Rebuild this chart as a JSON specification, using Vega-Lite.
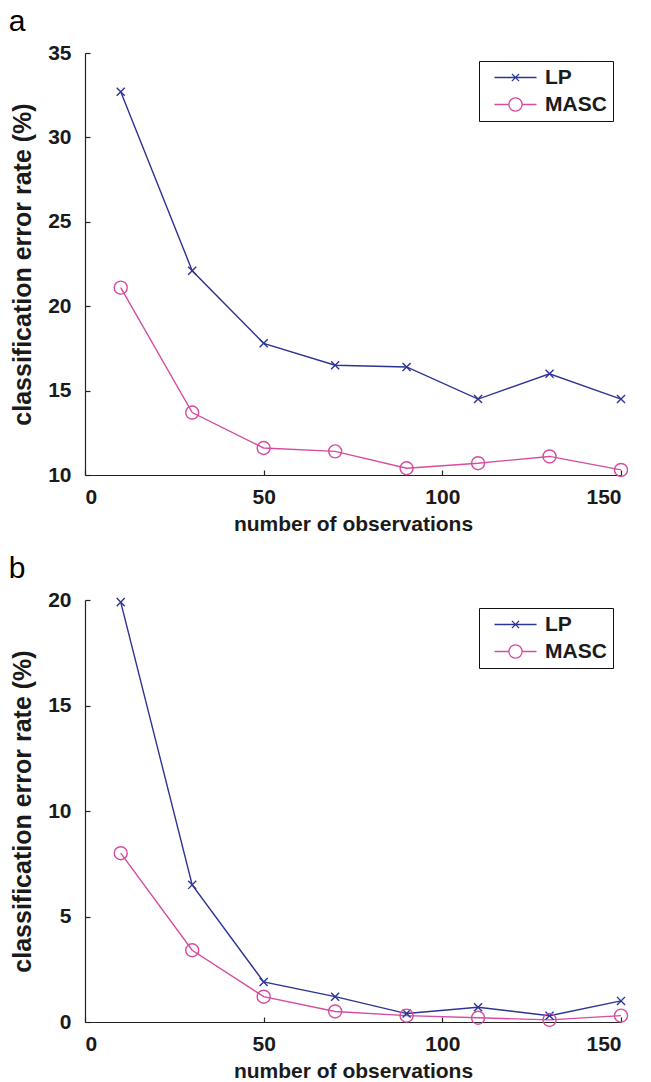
{
  "$schema": "https://vega.github.io/schema/vega-lite/v6.json",
  "background": "white",
  "padding": {"left": 8, "top": 7, "right": 5, "bottom": 0},
  "spacing": 20,
  "data": {"values": [
    {"panel": "a", "method": "LP", "obs": 10, "rate": 32.7},
    {"panel": "a", "method": "LP", "obs": 30, "rate": 22.1},
    {"panel": "a", "method": "LP", "obs": 50, "rate": 17.8},
    {"panel": "a", "method": "LP", "obs": 70, "rate": 16.5},
    {"panel": "a", "method": "LP", "obs": 90, "rate": 16.4},
    {"panel": "a", "method": "LP", "obs": 110, "rate": 14.5},
    {"panel": "a", "method": "LP", "obs": 130, "rate": 16.0},
    {"panel": "a", "method": "LP", "obs": 150, "rate": 14.5},
    {"panel": "a", "method": "MASC", "obs": 10, "rate": 21.1},
    {"panel": "a", "method": "MASC", "obs": 30, "rate": 13.7},
    {"panel": "a", "method": "MASC", "obs": 50, "rate": 11.6},
    {"panel": "a", "method": "MASC", "obs": 70, "rate": 11.4},
    {"panel": "a", "method": "MASC", "obs": 90, "rate": 10.4},
    {"panel": "a", "method": "MASC", "obs": 110, "rate": 10.7},
    {"panel": "a", "method": "MASC", "obs": 130, "rate": 11.1},
    {"panel": "a", "method": "MASC", "obs": 150, "rate": 10.3},
    {"panel": "b", "method": "LP", "obs": 10, "rate": 19.9},
    {"panel": "b", "method": "LP", "obs": 30, "rate": 6.5},
    {"panel": "b", "method": "LP", "obs": 50, "rate": 1.9},
    {"panel": "b", "method": "LP", "obs": 70, "rate": 1.2},
    {"panel": "b", "method": "LP", "obs": 90, "rate": 0.4},
    {"panel": "b", "method": "LP", "obs": 110, "rate": 0.7},
    {"panel": "b", "method": "LP", "obs": 130, "rate": 0.3},
    {"panel": "b", "method": "LP", "obs": 150, "rate": 1.0},
    {"panel": "b", "method": "MASC", "obs": 10, "rate": 8.0},
    {"panel": "b", "method": "MASC", "obs": 30, "rate": 3.4},
    {"panel": "b", "method": "MASC", "obs": 50, "rate": 1.2},
    {"panel": "b", "method": "MASC", "obs": 70, "rate": 0.5},
    {"panel": "b", "method": "MASC", "obs": 90, "rate": 0.3},
    {"panel": "b", "method": "MASC", "obs": 110, "rate": 0.2},
    {"panel": "b", "method": "MASC", "obs": 130, "rate": 0.1},
    {"panel": "b", "method": "MASC", "obs": 150, "rate": 0.3}
  ]},
  "config": {
    "view": {"stroke": null},
    "font": "Liberation Sans",
    "axis": {
      "grid": false,
      "domainColor": "#222",
      "domainWidth": 1.2,
      "tickColor": "#222",
      "tickWidth": 1.2,
      "tickSize": -5,
      "labelFont": "Liberation Sans",
      "labelFontWeight": "bold",
      "labelFontSize": 21,
      "labelColor": "#1a1a1a",
      "titleFont": "Liberation Sans",
      "titleFontWeight": "bold",
      "titleColor": "#1a1a1a"
    },
    "axisX": {"labelPadding": 16, "titlePadding": 6, "titleFontSize": 21},
    "axisY": {"labelPadding": 19, "titlePadding": 12, "titleFontSize": 25},
    "legend": {
      "orient": "top-right", "offset": 8,
      "strokeColor": "#111", "fillColor": "white", "padding": 6,
      "labelFont": "Liberation Sans", "labelFontSize": 21, "labelFontWeight": "bold", "labelColor": "#1a1a1a",
      "symbolSize": 144, "symbolStrokeWidth": 1.3, "symbolOffset": 20, "labelOffset": 19, "rowPadding": 5
    },
    "title": {"anchor": "start", "frame": "bounds", "fontSize": 30, "fontWeight": "normal", "font": "Liberation Sans", "color": "#000", "offset": 5}
  },
  "vconcat": [
    {
      "title": {"text": "a", "dx": -2},
      "width": 536,
      "height": 422,
      "transform": [{"filter": "datum.panel === 'a'"}],
      "encoding": {
        "x": {"field": "obs", "type": "quantitative", "scale": {"domain": [0, 150], "nice": false}, "axis": {"values": [0, 50, 100, 150], "title": "number of observations"}},
        "y": {"field": "rate", "type": "quantitative", "scale": {"domain": [10, 35], "nice": false, "zero": false}, "axis": {"values": [10, 15, 20, 25, 30, 35], "title": "classification error rate (%)"}}
      },
      "layer": [
        {"mark": {"type": "line", "strokeWidth": 1.4},
         "encoding": {"color": {"field": "method", "type": "nominal", "scale": {"domain": ["LP", "MASC"], "range": ["#2c3494", "#d64c9f"]}, "legend": null}}},
        {"mark": {"type": "point", "filled": false, "strokeWidth": 1.4, "opacity": 1, "size": 169},
         "encoding": {
           "color": {"field": "method", "type": "nominal", "scale": {"domain": ["LP", "MASC"], "range": ["#2c3494", "#d64c9f"]}, "legend": null},
           "shape": {"field": "method", "type": "nominal", "scale": {"domain": ["LP", "MASC"], "range": ["M-0.62,-0.62L0.62,0.62M-0.62,0.62L0.62,-0.62", "circle"]}, "legend": null}}},
        {"transform": [{"filter": "false"}],
         "mark": {"type": "point", "filled": false, "strokeWidth": 1.3, "opacity": 1, "size": 144},
         "encoding": {
           "color": {"field": "method", "type": "nominal", "scale": {"domain": ["LP", "MASC"], "range": ["#2c3494", "#d64c9f"]}, "legend": {"title": null}},
           "shape": {"field": "method", "type": "nominal", "scale": {"domain": ["LP", "MASC"], "range": ["M-3.5,0H3.5M-0.6,-0.6L0.6,0.6M-0.6,0.6L0.6,-0.6", "M-3.5,0H-1.1M1.1,0H3.5M1.1,0A1.1,1.1 0 1,1 -1.1,0A1.1,1.1 0 1,1 1.1,0"]}, "legend": {"title": null}}}}
      ],
      "resolve": {"scale": {"color": "independent", "shape": "independent"}}
    },
    {
      "title": {"text": "b", "dx": -2},
      "width": 536,
      "height": 422,
      "transform": [{"filter": "datum.panel === 'b'"}],
      "encoding": {
        "x": {"field": "obs", "type": "quantitative", "scale": {"domain": [0, 150], "nice": false}, "axis": {"values": [0, 50, 100, 150], "title": "number of observations"}},
        "y": {"field": "rate", "type": "quantitative", "scale": {"domain": [0, 20], "nice": false}, "axis": {"values": [0, 5, 10, 15, 20], "title": "classification error rate (%)"}}
      },
      "layer": [
        {"mark": {"type": "line", "strokeWidth": 1.4},
         "encoding": {"color": {"field": "method", "type": "nominal", "scale": {"domain": ["LP", "MASC"], "range": ["#2c3494", "#d64c9f"]}, "legend": null}}},
        {"mark": {"type": "point", "filled": false, "strokeWidth": 1.4, "opacity": 1, "size": 169},
         "encoding": {
           "color": {"field": "method", "type": "nominal", "scale": {"domain": ["LP", "MASC"], "range": ["#2c3494", "#d64c9f"]}, "legend": null},
           "shape": {"field": "method", "type": "nominal", "scale": {"domain": ["LP", "MASC"], "range": ["M-0.62,-0.62L0.62,0.62M-0.62,0.62L0.62,-0.62", "circle"]}, "legend": null}}},
        {"transform": [{"filter": "false"}],
         "mark": {"type": "point", "filled": false, "strokeWidth": 1.3, "opacity": 1, "size": 144},
         "encoding": {
           "color": {"field": "method", "type": "nominal", "scale": {"domain": ["LP", "MASC"], "range": ["#2c3494", "#d64c9f"]}, "legend": {"title": null}},
           "shape": {"field": "method", "type": "nominal", "scale": {"domain": ["LP", "MASC"], "range": ["M-3.5,0H3.5M-0.6,-0.6L0.6,0.6M-0.6,0.6L0.6,-0.6", "M-3.5,0H-1.1M1.1,0H3.5M1.1,0A1.1,1.1 0 1,1 -1.1,0A1.1,1.1 0 1,1 1.1,0"]}, "legend": {"title": null}}}}
      ],
      "resolve": {"scale": {"color": "independent", "shape": "independent"}}
    }
  ]
}
